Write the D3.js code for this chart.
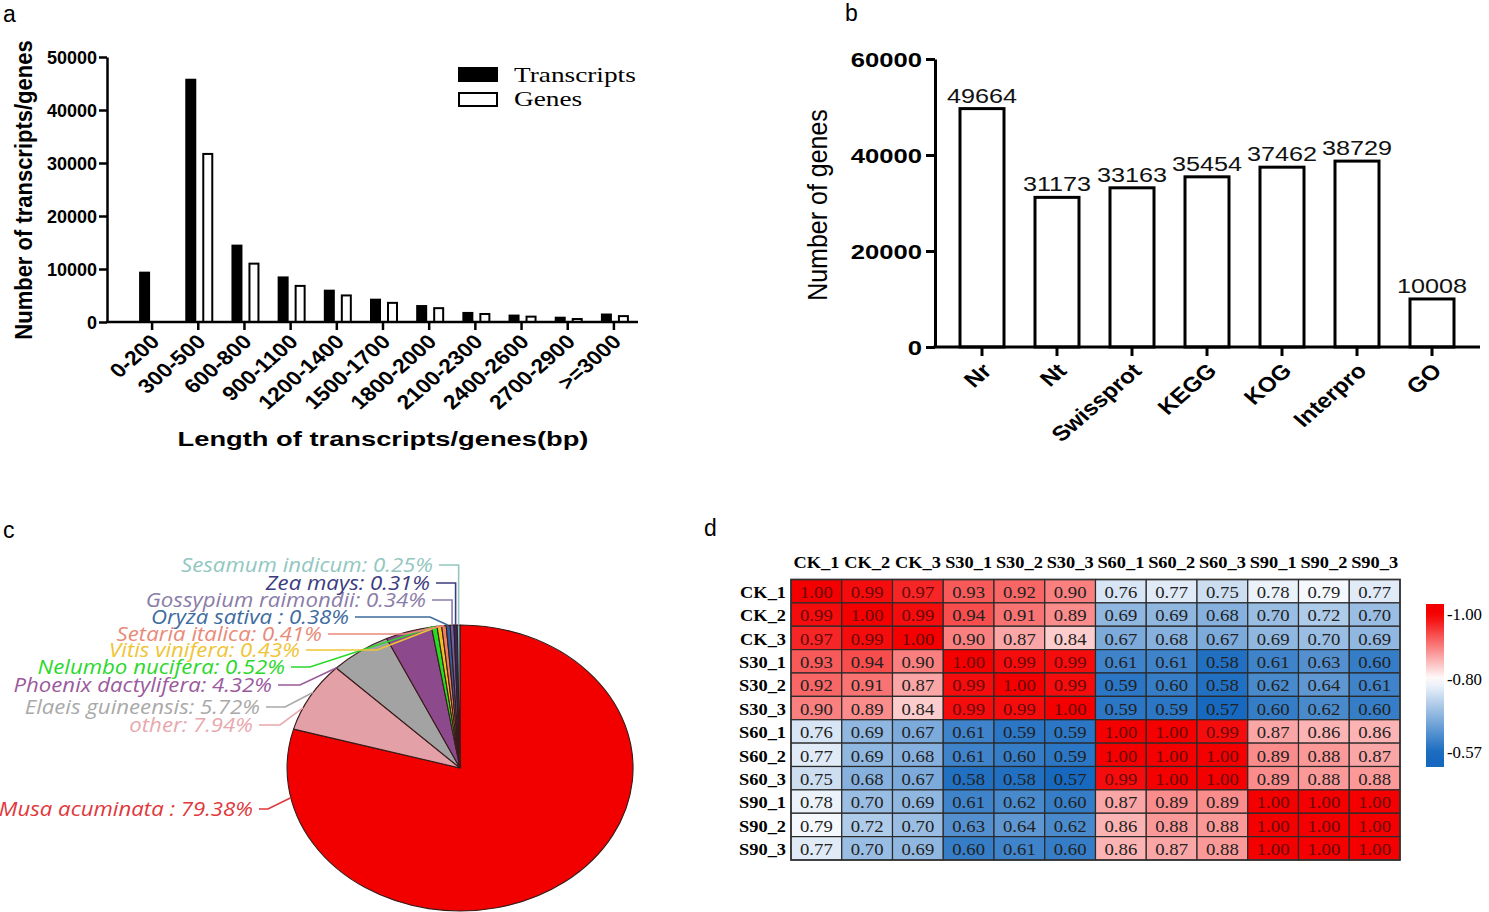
<!DOCTYPE html>
<html><head><meta charset="utf-8">
<script src="https://cdn.jsdelivr.net/npm/d3@7"></script>
<style>html,body{margin:0;padding:0;background:#fff;} svg{display:block;}</style>
</head><body>
<svg id="fig" width="1489" height="912"></svg>
<script>
// ---------- Panel a data ----------
const lengthBins = ["0-200","300-500","600-800","900-1100","1200-1400","1500-1700","1800-2000","2100-2300","2400-2600","2700-2900",">=3000"];
const transcriptCounts = [9500,45900,14600,8600,6100,4400,3200,1900,1400,1000,1600];
const geneCounts = [0,31900,11200,7000,5200,3800,2800,1700,1200,750,1300];
const aTicks = [0,10000,20000,30000,40000,50000];
const aSeries = ["Transcripts","Genes"];

// ---------- Panel b data ----------
const dbNames = ["Nr","Nt","Swissprot","KEGG","KOG","Interpro","GO"];
const dbGenes = [49664,31173,33163,35454,37462,38729,10008];
const bTicks = [0,20000,40000,60000];

// ---------- Panel c data ----------
const speciesNames = ["Musa acuminata :","other:","Elaeis guineensis:","Phoenix dactylifera:","Nelumbo nucifera:","Vitis vinifera:","Setaria italica:","Oryza sativa :","Gossypium raimondii:","Zea mays:","Sesamum indicum:"];
const speciesPct = [79.38,7.94,5.72,4.32,0.52,0.43,0.41,0.38,0.34,0.31,0.25];

// ---------- Panel d data ----------
const samples = ["CK_1","CK_2","CK_3","S30_1","S30_2","S30_3","S60_1","S60_2","S60_3","S90_1","S90_2","S90_3"];
const corrCK1  = [1.00,0.99,0.97,0.93,0.92,0.90,0.76,0.77,0.75,0.78,0.79,0.77];
const corrCK2  = [0.99,1.00,0.99,0.94,0.91,0.89,0.69,0.69,0.68,0.70,0.72,0.70];
const corrCK3  = [0.97,0.99,1.00,0.90,0.87,0.84,0.67,0.68,0.67,0.69,0.70,0.69];
const corrS301 = [0.93,0.94,0.90,1.00,0.99,0.99,0.61,0.61,0.58,0.61,0.63,0.60];
const corrS302 = [0.92,0.91,0.87,0.99,1.00,0.99,0.59,0.60,0.58,0.62,0.64,0.61];
const corrS303 = [0.90,0.89,0.84,0.99,0.99,1.00,0.59,0.59,0.57,0.60,0.62,0.60];
const corrS601 = [0.76,0.69,0.67,0.61,0.59,0.59,1.00,1.00,0.99,0.87,0.86,0.86];
const corrS602 = [0.77,0.69,0.68,0.61,0.60,0.59,1.00,1.00,1.00,0.89,0.88,0.87];
const corrS603 = [0.75,0.68,0.67,0.58,0.58,0.57,0.99,1.00,1.00,0.89,0.88,0.88];
const corrS901 = [0.78,0.70,0.69,0.61,0.62,0.60,0.87,0.89,0.89,1.00,1.00,1.00];
const corrS902 = [0.79,0.72,0.70,0.63,0.64,0.62,0.86,0.88,0.88,1.00,1.00,1.00];
const corrS903 = [0.77,0.70,0.69,0.60,0.61,0.60,0.86,0.87,0.88,1.00,1.00,1.00];
const corrRows = [corrCK1,corrCK2,corrCK3,corrS301,corrS302,corrS303,corrS601,corrS602,corrS603,corrS901,corrS902,corrS903];
const legendValues = [1.00,0.80,0.57];
const legendLabels = ["-1.00","-0.80","-0.57"];

// ---------- styles / layout ----------
const SANS = "'Liberation Sans', Arial, Helvetica, sans-serif";
const SERIF = "'Liberation Serif', 'Times New Roman', serif";
const PIEFONT = "'Open Sans', 'Noto Sans', sans-serif";
const sliceColors = ["#f20000","#e3a0a6","#a3a3a3","#8c4a8c","#22dd22","#f0c020","#ee8060","#2f5f9f","#6f5f9a","#2a2a70","#70b8b0"];
const labelColors = ["#e0383c","#e8a8ae","#a9a9a9","#9a5a9c","#2ad82a","#efc436","#e98a78","#3e6b9e","#8a7ca8","#3b3b7e","#92c7bf"];
const pieLabelLayout = [
  {x:253, y:809, elbow:268, ang:258},
  {x:253, y:725, elbow:280, ang:295},
  {x:260, y:707, elbow:285, ang:302},
  {x:272, y:685, elbow:300, ang:314.5},
  {x:285, y:667, elbow:310},
  {x:300, y:650, elbow:377},
  {x:322, y:634, elbow:405},
  {x:349, y:617, elbow:430},
  {x:426, y:600, elbow:null},
  {x:430, y:583, elbow:null},
  {x:433, y:565, elbow:null}
];

const svg = d3.select("#fig");

function stext(parent, x, y, str, o) {
  o = o || {};
  const t = parent.append("text")
    .attr("transform", `translate(${x},${y}) scale(${o.sx||1},1) rotate(${o.rot||0})`)
    .attr("font-family", o.family || SANS)
    .attr("font-size", o.size || 16)
    .attr("font-weight", o.weight || "normal")
    .attr("font-style", o.style || "normal")
    .attr("text-anchor", o.anchor || "start")
    .attr("fill", o.fill || "#000")
    .text(str);
  if (o.baseline) t.attr("dominant-baseline", o.baseline);
  return t;
}

// panel letters
stext(svg, 3, 22, "a", {size:23});
stext(svg, 845, 21, "b", {size:23});
stext(svg, 3, 538, "c", {size:23});
stext(svg, 704, 536, "d", {size:23});

// ================= Panel a =================
(function(){
  const g = svg.append("g");
  const rows = lengthBins.map((b,i)=>({bin:b, t:transcriptCounts[i], g:geneCounts[i]}));
  const x = d3.scaleBand().domain(lengthBins).range([129,637]);
  const y = d3.scaleLinear().domain([0,50000]).range([322,57]);
  const cx = d => x(d) + x.bandwidth()/2;

  g.selectAll("rect.tr").data(rows).join("rect").attr("class","tr")
    .attr("x", d=>cx(d.bin)-13).attr("width",11)
    .attr("y", d=>y(d.t)).attr("height", d=>y(0)-y(d.t))
    .attr("fill","#000");
  g.selectAll("rect.ge").data(rows.filter(d=>d.g>0)).join("rect").attr("class","ge")
    .attr("x", d=>cx(d.bin)+5).attr("width",9)
    .attr("y", d=>y(d.g)+1).attr("height", d=>y(0)-y(d.g)-1)
    .attr("fill","#fff").attr("stroke","#000").attr("stroke-width",2);

  // y axis
  const ya = g.append("g").attr("transform","translate(107,0)")
    .call(d3.axisLeft(y).tickValues(aTicks).tickSize(8).tickSizeOuter(0).tickFormat(d3.format("d")));
  ya.select(".domain").attr("stroke-width",2.5);
  ya.selectAll(".tick line").attr("stroke-width",2.5);
  ya.selectAll(".tick text").attr("x",null).attr("dy",null)
    .attr("transform","translate(-10,0) scale(1.0,1)")
    .attr("dominant-baseline","central")
    .attr("font-family",SANS).attr("font-size",18).attr("font-weight","bold").attr("fill","#000");

  // x axis
  const xa = g.append("g").attr("transform","translate(0,322)")
    .call(d3.axisBottom(x).tickSize(8).tickSizeOuter(0));
  xa.select(".domain").remove();
  xa.selectAll(".tick line").attr("stroke-width",2.5);
  xa.selectAll(".tick text").attr("y",null).attr("dy","0.35em")
    .attr("text-anchor","end")
    .attr("transform","translate(3,16) scale(1.15,1) rotate(-45)")
    .attr("font-family",SANS).attr("font-size",20).attr("font-weight","bold").attr("fill","#000");
  g.append("line").attr("x1",106).attr("x2",638).attr("y1",322).attr("y2",322)
    .attr("stroke","#000").attr("stroke-width",2.5);

  // titles
  stext(g, 24, 190, "Number of transcripts/genes", {size:22, weight:"bold", rot:-90, anchor:"middle", baseline:"central", sx:1.1});
  stext(g, 383, 446, "Length of transcripts/genes(bp)", {size:21, weight:"bold", anchor:"middle", sx:1.3});

  // legend
  const lg = g.append("g");
  lg.append("rect").attr("x",458).attr("y",67).attr("width",40).attr("height",15).attr("fill","#000");
  lg.append("rect").attr("x",459).attr("y",93).attr("width",38).attr("height",13).attr("fill","#fff").attr("stroke","#000").attr("stroke-width",2);
  stext(lg, 514, 82, aSeries[0], {family:SERIF, size:21, sx:1.3});
  stext(lg, 514, 106, aSeries[1], {family:SERIF, size:21, sx:1.3});
})();

// ================= Panel b =================
(function(){
  const g = svg.append("g");
  const x = d3.scaleBand().domain(dbNames).range([944.5,1469.5]);
  const y = d3.scaleLinear().domain([0,60000]).range([347,59]);
  const cx = d => x(d) + x.bandwidth()/2;
  const rows = dbNames.map((n,i)=>({n, v:dbGenes[i]}));

  g.selectAll("rect.bar").data(rows).join("rect").attr("class","bar")
    .attr("x", d=>cx(d.n)-22).attr("width",44)
    .attr("y", d=>y(d.v)).attr("height", d=>y(0)-y(d.v))
    .attr("fill","#fff").attr("stroke","#000").attr("stroke-width",3);

  rows.forEach(d => stext(g, cx(d.n), y(d.v)-6, d.v, {size:21, anchor:"middle", sx:1.2, fill:"#111"}));

  const ya = g.append("g").attr("transform","translate(935,0)")
    .call(d3.axisLeft(y).tickValues(bTicks).tickSize(9).tickSizeOuter(0).tickFormat(d3.format("d")));
  ya.select(".domain").attr("stroke-width",3);
  ya.selectAll(".tick line").attr("stroke-width",3);
  ya.selectAll(".tick text").attr("x",null).attr("dy",null)
    .attr("transform","translate(-13,0) scale(1.22,1)")
    .attr("dominant-baseline","central")
    .attr("font-family",SANS).attr("font-size",21).attr("font-weight","bold").attr("fill","#000");

  const xa = g.append("g").attr("transform","translate(0,347)")
    .call(d3.axisBottom(x).tickSize(9).tickSizeOuter(0));
  xa.select(".domain").remove();
  xa.selectAll(".tick line").attr("stroke-width",3);
  xa.selectAll(".tick text").attr("y",null).attr("dy","0.35em")
    .attr("text-anchor","end")
    .attr("transform","translate(5,20) scale(1.15,1) rotate(-45)")
    .attr("font-family",SANS).attr("font-size",21).attr("font-weight","bold").attr("fill","#000");
  g.append("line").attr("x1",933.5).attr("x2",1480).attr("y1",347).attr("y2",347)
    .attr("stroke","#000").attr("stroke-width",3);

  stext(g, 818, 205, "Number of genes", {size:25, rot:-90, anchor:"middle", baseline:"central", sx:1.1});
})();

// ================= Panel c =================
(function(){
  const g = svg.append("g");
  const cxp = 460, cyp = 768, rx = 173, ry = 143;
  const pie = d3.pie().sort(null).value(d=>d)(speciesPct);
  const arc = d3.arc().innerRadius(0).outerRadius(1);
  const pg = g.append("g").attr("transform",`translate(${cxp},${cyp}) scale(${rx},${ry})`);
  pg.selectAll("path").data(pie).join("path")
    .attr("d", arc)
    .attr("fill", (d,i)=>sliceColors[i])
    .attr("stroke","#3a1a1a").attr("stroke-width",1.1)
    .attr("vector-effect","non-scaling-stroke");

  const pt = a => [cxp + rx*Math.sin(a), cyp - ry*Math.cos(a)];
  pie.forEach((d,i) => {
    const L = pieLabelLayout[i];
    const ang = L.ang != null ? L.ang*Math.PI/180 : (d.startAngle+d.endAngle)/2;
    const e = pt(ang);
    const elbowX = L.elbow != null ? L.elbow : e[0];
    const pts = [[L.x+6, L.y],[elbowX, L.y], e];
    g.append("path").attr("d", d3.line()(pts))
      .attr("fill","none").attr("stroke",labelColors[i]).attr("stroke-width",1.6);
    stext(g, L.x, L.y, speciesNames[i] + " " + speciesPct[i].toFixed(2) + "%",
      {family:PIEFONT, size:19.5, style:"italic", anchor:"end", baseline:"central", sx:1.14, fill:labelColors[i]});
  });
})();

// ================= Panel d =================
(function(){
  const g = svg.append("g");
  const x = d3.scaleBand().domain(samples).range([791,1400]);
  const y = d3.scaleBand().domain(samples).range([579.5,860]);
  const color = d3.scaleLinear().domain([0.57,0.80,1.00]).range(["#1769bf","#ffffff","#f40000"]);
  const cells = [];
  corrRows.forEach((r,i)=>r.forEach((v,j)=>cells.push({row:samples[i], col:samples[j], v})));

  g.selectAll("rect.cell").data(cells).join("rect").attr("class","cell")
    .attr("x", d=>x(d.col)).attr("y", d=>y(d.row))
    .attr("width", x.bandwidth()).attr("height", y.bandwidth())
    .attr("fill", d=>color(d.v)).attr("stroke","#2a2a2a").attr("stroke-width",1.2);
  g.append("rect").attr("x",791).attr("y",579.5).attr("width",609).attr("height",280.5)
    .attr("fill","none").attr("stroke","#333").attr("stroke-width",1.6);

  cells.forEach(d => stext(g, x(d.col)+x.bandwidth()/2, y(d.row)+y.bandwidth()/2+1, d.v.toFixed(2),
    {family:SERIF, size:17, anchor:"middle", baseline:"central", sx:1.1, fill: d.v>=0.97 ? "#6a0808" : "#222"}));

  samples.forEach(s => {
    stext(g, x(s)+x.bandwidth()/2, 568, s, {family:SERIF, size:17, weight:"bold", anchor:"middle", sx:1.08});
    stext(g, 786, y(s)+y.bandwidth()/2+1, s, {family:SERIF, size:17, weight:"bold", anchor:"end", baseline:"central", sx:1.08});
  });

  // legend
  const ly = d3.scaleLinear().domain([1.00,0.57]).range([615,753]);
  const defs = svg.append("defs");
  const grad = defs.append("linearGradient").attr("id","cbar").attr("x1",0).attr("x2",0).attr("y1",0).attr("y2",1);
  const top = 604, bot = 767;
  d3.range(0,1.0001,0.05).forEach(t => {
    const yy = top + t*(bot-top);
    const v = Math.max(0.57, Math.min(1.0, ly.invert(yy)));
    grad.append("stop").attr("offset", t).attr("stop-color", color(v));
  });
  g.append("rect").attr("x",1426).attr("y",top).attr("width",18).attr("height",bot-top).attr("fill","url(#cbar)");
  legendValues.forEach((v,i) => stext(g, 1447, ly(v), legendLabels[i], {family:SERIF, size:16, baseline:"central", sx:1.05}));
})();
</script>
</body></html>
